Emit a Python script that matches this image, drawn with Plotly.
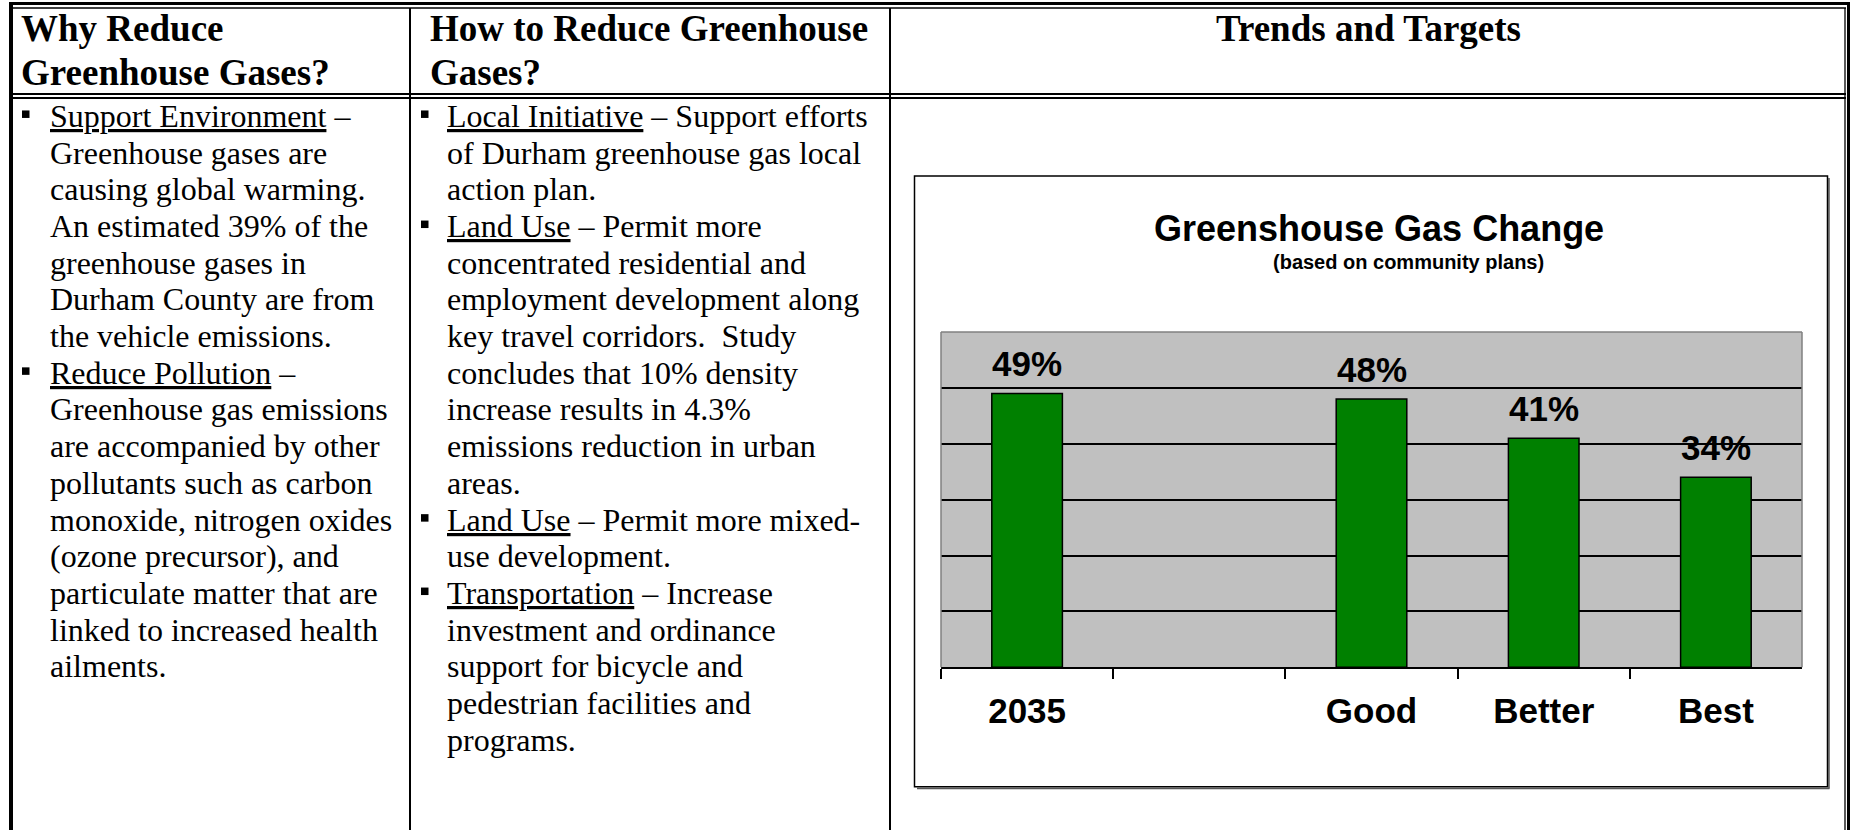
import plotly.graph_objects as go

W, H = 1851, 830


def px(x):
    return x / W


def py(y):
    return 1 - y / H


# ---------------- data ----------------
col1_header = ["Why Reduce", "Greenhouse Gases?"]
col2_header = ["How to Reduce Greenhouse", "Gases?"]
col3_header = "Trends and Targets"

why_lines = [
    "<u>Support Environment</u> –",
    "Greenhouse gases are",
    "causing global warming.",
    "An estimated 39% of the",
    "greenhouse gases in",
    "Durham County are from",
    "the vehicle emissions.",
    "<u>Reduce Pollution</u> –",
    "Greenhouse gas emissions",
    "are accompanied by other",
    "pollutants such as carbon",
    "monoxide, nitrogen oxides",
    "(ozone precursor), and",
    "particulate matter that are",
    "linked to increased health",
    "ailments.",
]
why_bullets = [0, 7]

how_lines = [
    "<u>Local Initiative</u> – Support efforts",
    "of Durham greenhouse gas local",
    "action plan.",
    "<u>Land Use</u> – Permit more",
    "concentrated residential and",
    "employment development along",
    "key travel corridors.\u00a0 Study",
    "concludes that 10% density",
    "increase results in 4.3%",
    "emissions reduction in urban",
    "areas.",
    "<u>Land Use</u> – Permit more mixed-",
    "use development.",
    "<u>Transportation</u> – Increase",
    "investment and ordinance",
    "support for bicycle and",
    "pedestrian facilities and",
    "programs.",
]
how_bullets = [0, 3, 11, 13]

chart_title = "Greenshouse Gas Change"
chart_subtitle = "(based on community plans)"
categories = ["2035", " ", "Good", "Better", "Best"]
values = [49, None, 48, 41, 34]
value_labels = ["49%", "", "48%", "41%", "34%"]

# ---------------- layout constants ----------------
SERIF = "Liberation Serif"
SANS = "Liberation Sans"
BODY_FS = 32
HEAD_FS = 37
LINE_H = 36.7
BODY_BASE0 = 126.7
HEAD_BASE = [40.5, 85.0]

annotations = []
shapes = []


def text_line(text, x, base, fs, bold=False, anchor="left", family=SERIF):
    center = base - 0.3375 * fs
    annotations.append(dict(
        text=text, x=px(x), y=py(center), xref="paper", yref="paper",
        xanchor=anchor, yanchor="middle", showarrow=False, borderpad=0,
        font=dict(family=family, size=fs, color="black",
                  weight="bold" if bold else "normal"),
    ))


# headers
for i, t in enumerate(col1_header):
    text_line(t, 20, HEAD_BASE[i], HEAD_FS, bold=True)
for i, t in enumerate(col2_header):
    text_line(t, 429, HEAD_BASE[i], HEAD_FS, bold=True)
text_line(col3_header, 1368, HEAD_BASE[0], HEAD_FS, bold=True, anchor="center")


# body columns
def body(lines, bullets, x_text, x_bullet):
    for i, t in enumerate(lines):
        base = BODY_BASE0 + i * LINE_H
        text_line(t, x_text, base, BODY_FS)
        if i in bullets:
            cy = base - 12.5
            shapes.append(dict(type="rect", xref="paper", yref="paper",
                               x0=px(x_bullet), x1=px(x_bullet + 7.5),
                               y0=py(cy + 3.75), y1=py(cy - 3.75),
                               fillcolor="black", line=dict(width=0)))


body(why_lines, why_bullets, 49, 22)
body(how_lines, how_bullets, 446, 421)


# table borders
def hline(y, x0, x1, w):
    shapes.append(dict(type="line", xref="paper", yref="paper",
                       x0=px(x0), x1=px(x1), y0=py(y), y1=py(y),
                       line=dict(color="black", width=w)))


def vline(x, y0, y1, w):
    shapes.append(dict(type="line", xref="paper", yref="paper",
                       x0=px(x), x1=px(x), y0=py(y0), y1=py(y1),
                       line=dict(color="black", width=w)))


hline(3.5, 9, 1850, 3)
hline(8, 12, 1846, 1.3)
vline(11, 2, 830, 4)
vline(1848.5, 2, 830, 3)
vline(1845, 8, 830, 1.3)
hline(94, 11, 1846, 2)
hline(98, 11, 1846, 2)
vline(410, 8, 830, 2)
vline(890, 8, 830, 2)

# chart frame with slight shadow
shapes.append(dict(type="line", xref="paper", yref="paper",
                   x0=px(1829), x1=px(1829), y0=py(178), y1=py(788.5),
                   line=dict(color="#555555", width=1.5)))
shapes.append(dict(type="line", xref="paper", yref="paper",
                   x0=px(917), x1=px(1829.5), y0=py(788.5), y1=py(788.5),
                   line=dict(color="#555555", width=1.5)))
shapes.append(dict(type="rect", xref="paper", yref="paper",
                   x0=px(914.5), x1=px(1827.5), y0=py(176), y1=py(786.7),
                   line=dict(color="black", width=1.5), fillcolor="rgba(0,0,0,0)"))

# plot-area gray border (top, left, right)
for (x0, x1, y0, y1) in [(0, 1, 1, 1), (0, 0, 0, 1), (1, 1, 0, 1)]:
    shapes.append(dict(type="line", xref="x domain", yref="y domain",
                       x0=x0, x1=x1, y0=y0, y1=y1, layer="above",
                       line=dict(color="#808080", width=1.5)))

# chart titles
annotations.append(dict(text=chart_title, x=px(1379), y=py(228), xref="paper", yref="paper",
                        xanchor="center", yanchor="middle", showarrow=False,
                        font=dict(family=SANS, size=36, color="black", weight="bold")))
annotations.append(dict(text=chart_subtitle, x=px(1408), y=py(262), xref="paper", yref="paper",
                        xanchor="center", yanchor="middle", showarrow=False,
                        font=dict(family=SANS, size=20, color="black", weight="bold")))

# value labels (positioned by category index on the category axis)
for i, (v, lab) in enumerate(zip(values, value_labels)):
    if v is None:
        continue
    annotations.append(dict(text=lab, x=i, y=v, xref="x", yref="y",
                            xanchor="center", yanchor="middle", yshift=30, showarrow=False,
                            font=dict(family=SANS, size=35, color="black", weight="bold")))

fig = go.Figure()
fig.add_trace(go.Bar(
    x=categories, y=values, width=0.41,
    marker=dict(color="#008000", line=dict(color="black", width=1.5)),
    hoverinfo="skip", showlegend=False,
))

fig.update_layout(
    width=W, height=H, autosize=False,
    margin=dict(l=0, r=0, t=0, b=0, pad=0),
    paper_bgcolor="white", plot_bgcolor="#C0C0C0",
    showlegend=False,
    xaxis=dict(
        domain=[px(941), px(1802)], type="category",
        categoryorder="array", categoryarray=categories,
        range=[-0.5, len(categories) - 0.5], autorange=False,
        showline=True, linecolor="black", linewidth=2,
        ticks="outside", ticklen=10, tickwidth=1.5, tickcolor="black",
        tickson="boundaries", showgrid=False, zeroline=False,
        tickfont=dict(family=SANS, size=35, color="black", weight="bold"),
        tickangle=0,
        ticklabelstandoff=12,
        fixedrange=True,
    ),
    yaxis=dict(
        domain=[py(667.3), py(332)], range=[0, 60], autorange=False,
        tickvals=[0, 10, 20, 30, 40, 50], showticklabels=False,
        showgrid=True, gridcolor="black", gridwidth=1.5,
        zeroline=False, showline=False, ticks="",
        fixedrange=True,
    ),
    annotations=annotations,
    shapes=shapes,
)

fig.write_html("out.html", config={"displayModeBar": False})
